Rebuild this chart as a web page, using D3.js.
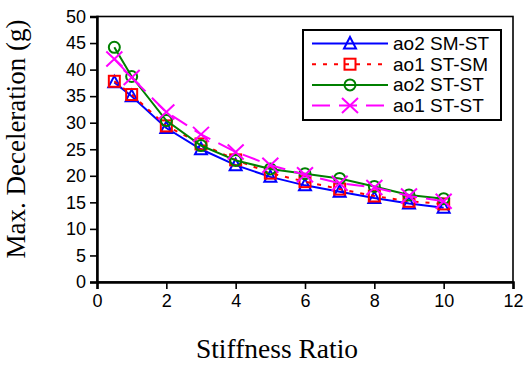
<!DOCTYPE html>
<html>
<head>
<meta charset="utf-8">
<title>Max. Deceleration vs Stiffness Ratio</title>
<style>
  body { margin: 0; background: #fff; }
  svg { display: block; }
</style>
</head>
<body>
<svg id="chart" width="524" height="365"></svg>
<script src="https://d3js.org/d3.v7.min.js"></script>
<script>
// data
const ratios = [0.5, 1, 2, 3, 4, 5, 6, 7, 8, 9, 10];
const ao2SMST = [37.6, 35.0, 29.0, 25.0, 22.0, 19.8, 18.2, 17.0, 15.8, 14.8, 14.0];
const ao1STSM = [37.8, 35.3, 29.4, 26.0, 23.0, 20.5, 18.9, 17.5, 16.2, 15.2, 14.7];
const ao2STST = [44.2, 38.7, 30.4, 25.7, 22.9, 21.3, 20.4, 19.5, 18.0, 16.4, 15.7];
const ao1STST = [42.0, 38.5, 32.0, 27.8, 24.5, 22.0, 20.2, 18.6, 17.8, 16.2, 15.2];
const xTicks = [0, 2, 4, 6, 8, 10, 12];
const yTicks = [0, 5, 10, 15, 20, 25, 30, 35, 40, 45, 50];

const series = [
  {name: "ao2 SM-ST", values: ao2SMST, color: "#0000ff", dash: null, marker: "triangle"},
  {name: "ao1 ST-SM", values: ao1STSM, color: "#ff0000", dash: "4,7", marker: "square"},
  {name: "ao2 ST-ST", values: ao2STST, color: "#008000", dash: null, marker: "circle"},
  {name: "ao1 ST-ST", values: ao1STST, color: "#ff00ff", dash: "18,9", marker: "cross"}
];

const margin = {top: 16.5, right: 11, bottom: 83, left: 97};
const width = 524 - margin.left - margin.right;
const height = 365 - margin.top - margin.bottom;

const svg = d3.select("#chart");
const g = svg.append("g")
    .attr("transform", `translate(${margin.left},${margin.top})`);

const x = d3.scaleLinear().domain([0, 12]).range([0, width]);
const y = d3.scaleLinear().domain([0, 50]).range([height, 0]);

// frame
g.append("rect")
    .attr("width", width)
    .attr("height", height)
    .attr("fill", "none")
    .attr("stroke", "#000")
    .attr("stroke-width", 1.6);

// axes
const yAxis = g.append("g")
    .call(d3.axisLeft(y).tickValues(yTicks).tickSize(7).tickPadding(4));
yAxis.select(".domain").attr("stroke-width", 2.5);
yAxis.selectAll(".tick line").attr("stroke-width", 1.6);
yAxis.selectAll("text")
    .attr("font-family", "'Liberation Sans', Arial, sans-serif")
    .attr("font-size", 18)
    .attr("fill", "#000");

const xAxis = g.append("g")
    .attr("transform", `translate(0,${height})`)
    .call(d3.axisBottom(x).tickValues(xTicks).tickSize(7).tickPadding(5));
xAxis.select(".domain").attr("stroke-width", 2.5);
xAxis.selectAll(".tick line").attr("stroke-width", 1.6);
xAxis.selectAll("text")
    .attr("font-family", "'Liberation Sans', Arial, sans-serif")
    .attr("font-size", 18)
    .attr("fill", "#000");

// axis titles
svg.append("text")
    .attr("x", 277)
    .attr("y", 358)
    .attr("text-anchor", "middle")
    .attr("font-family", "'Liberation Serif', 'Times New Roman', serif")
    .attr("font-size", 27.5)
    .text("Stiffness Ratio");

svg.append("text")
    .attr("transform", "translate(25,139) rotate(-90)")
    .attr("text-anchor", "middle")
    .attr("font-family", "'Liberation Serif', 'Times New Roman', serif")
    .attr("font-size", 27)
    .text("Max. Deceleration (g)");

// markers
function drawMarker(sel, type, color) {
  if (type === "triangle") {
    sel.append("path").attr("d", "M0,-6.5L6,5L-6,5Z");
  } else if (type === "square") {
    sel.append("rect").attr("x", -5.5).attr("y", -5.5).attr("width", 11).attr("height", 11);
  } else if (type === "circle") {
    sel.append("circle").attr("r", 5.5);
  } else {
    sel.append("path").attr("d", "M-8,-7.5L8,7.5M-8,7.5L8,-7.5");
  }
  sel.selectAll("*")
      .attr("fill", "none")
      .attr("stroke", color)
      .attr("stroke-width", 2);
}

const line = d3.line()
    .x((d, i) => x(ratios[i]))
    .y(d => y(d));

series.forEach(s => {
  g.append("path")
      .datum(s.values)
      .attr("d", line)
      .attr("fill", "none")
      .attr("stroke", s.color)
      .attr("stroke-width", 2)
      .attr("stroke-dasharray", s.dash);
  g.selectAll(null)
      .data(s.values)
      .enter().append("g")
      .attr("transform", (d, i) => `translate(${x(ratios[i])},${y(d)})`)
      .each(function() { drawMarker(d3.select(this), s.marker, s.color); });
});

// legend
const legend = svg.append("g").attr("transform", "translate(303,30)");
legend.append("rect")
    .attr("width", 198)
    .attr("height", 90)
    .attr("fill", "#fff")
    .attr("stroke", "#000")
    .attr("stroke-width", 2);

series.forEach((s, i) => {
  const row = legend.append("g").attr("transform", `translate(0,${13.5 + i * 20.7})`);
  row.append("line")
      .attr("x1", 9).attr("x2", 85)
      .attr("stroke", s.color)
      .attr("stroke-width", 2)
      .attr("stroke-dasharray", s.dash);
  drawMarker(row.append("g").attr("transform", "translate(47,0)"), s.marker, s.color);
  row.append("text")
      .attr("x", 90)
      .attr("y", 6.5)
      .attr("font-family", "'Liberation Sans', Arial, sans-serif")
      .attr("font-size", 19)
      .text(s.name);
});
</script>
</body>
</html>
